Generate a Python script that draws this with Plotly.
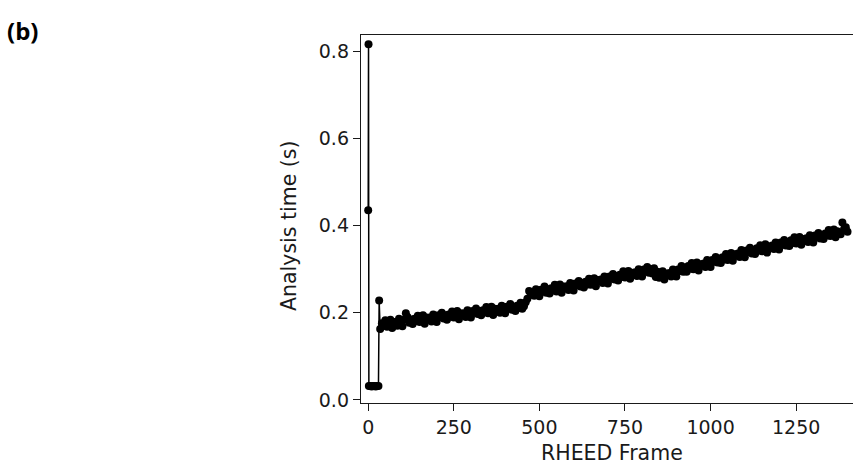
import plotly.graph_objects as go

# ---- data ----
early_frames = [0, 1, 2, 6, 10, 14, 18, 22, 26, 30, 32]
early_times = [0.435, 0.816, 0.032, 0.032, 0.031, 0.032, 0.032, 0.031, 0.032, 0.032, 0.228]

main_frames = list(range(35, 1401, 5))
main_times = [
    0.163, 0.176, 0.170, 0.183, 0.168, 0.175, 0.184, 0.165, 0.179,
    0.179, 0.170, 0.186, 0.177, 0.169, 0.184, 0.199, 0.190, 0.177, 0.184,
    0.174, 0.186, 0.181, 0.193, 0.179, 0.185, 0.194, 0.175, 0.189, 0.185,
    0.189, 0.180, 0.196, 0.187, 0.179, 0.194, 0.190, 0.200, 0.187, 0.194,
    0.184, 0.196, 0.191, 0.203, 0.189, 0.195, 0.204, 0.185, 0.199, 0.195,
    0.199, 0.190, 0.206, 0.197, 0.189, 0.204, 0.200, 0.210, 0.197, 0.204,
    0.194, 0.206, 0.201, 0.213, 0.199, 0.205, 0.214, 0.195, 0.209, 0.205,
    0.209, 0.200, 0.216, 0.207, 0.199, 0.214, 0.210, 0.220, 0.207, 0.214,
    0.204, 0.216, 0.211, 0.223, 0.209, 0.215, 0.224, 0.232, 0.250, 0.241,
    0.247, 0.239, 0.254, 0.246, 0.238, 0.253, 0.249, 0.260, 0.246, 0.254,
    0.244, 0.256, 0.251, 0.264, 0.249, 0.256, 0.265, 0.246, 0.260, 0.257,
    0.261, 0.252, 0.268, 0.260, 0.251, 0.267, 0.263, 0.273, 0.260, 0.268,
    0.258, 0.271, 0.265, 0.278, 0.264, 0.271, 0.279, 0.261, 0.275, 0.272,
    0.276, 0.268, 0.283, 0.275, 0.267, 0.283, 0.278, 0.289, 0.276, 0.284,
    0.274, 0.287, 0.282, 0.295, 0.281, 0.288, 0.296, 0.278, 0.292, 0.289,
    0.293, 0.284, 0.300, 0.292, 0.283, 0.299, 0.295, 0.305, 0.292, 0.300,
    0.290, 0.302, 0.282, 0.294, 0.280, 0.286, 0.295, 0.276, 0.290, 0.287,
    0.291, 0.283, 0.299, 0.291, 0.283, 0.299, 0.296, 0.307, 0.294, 0.303,
    0.294, 0.307, 0.301, 0.314, 0.300, 0.307, 0.315, 0.297, 0.311, 0.308,
    0.313, 0.305, 0.321, 0.313, 0.305, 0.321, 0.317, 0.328, 0.315, 0.324,
    0.314, 0.327, 0.322, 0.335, 0.321, 0.328, 0.337, 0.319, 0.334, 0.331,
    0.336, 0.328, 0.344, 0.335, 0.327, 0.343, 0.339, 0.349, 0.336, 0.344,
    0.335, 0.348, 0.343, 0.355, 0.341, 0.348, 0.357, 0.338, 0.352, 0.349,
    0.354, 0.346, 0.361, 0.353, 0.345, 0.361, 0.356, 0.367, 0.354, 0.362,
    0.353, 0.366, 0.360, 0.373, 0.359, 0.365, 0.374, 0.356, 0.369, 0.366,
    0.371, 0.362, 0.378, 0.370, 0.361, 0.377, 0.373, 0.383, 0.370, 0.378,
    0.369, 0.382, 0.377, 0.390, 0.376, 0.383, 0.391, 0.373, 0.387, 0.384,
    0.380, 0.407, 0.392, 0.396, 0.386,
]

x_ticks = [0, 250, 500, 750, 1000, 1250]
y_ticks = [0.0, 0.2, 0.4, 0.6, 0.8]

frames = early_frames + main_frames
times = early_times + main_times

W, H = 853, 468
ML, MR, MT, MB = 361, 0, 35, 65
font_fam = "DejaVu Sans"
ink = "#1a1a1a"

fig = go.Figure()
fig.add_trace(go.Scatter(
    x=frames, y=times, mode="lines+markers",
    line=dict(color="black", width=1.5),
    marker=dict(color="black", size=8),
    showlegend=False, hoverinfo="skip",
))

fig.update_layout(
    width=W, height=H,
    margin=dict(l=ML, r=MR, t=MT, b=MB),
    paper_bgcolor="white", plot_bgcolor="white",
    font=dict(family=font_fam, size=19, color=ink),
    xaxis=dict(
        range=[-21, 1416], tickvals=x_ticks, ticktext=[str(v) for v in x_ticks],
        showline=True, linecolor=ink, linewidth=1.4, mirror=True,
        ticks="outside", ticklen=7, tickwidth=1.4, tickcolor=ink,
        showgrid=False, zeroline=False,
        tickfont=dict(family=font_fam, size=19, color=ink),
    ),
    yaxis=dict(
        range=[-0.007, 0.837], tickvals=y_ticks, ticktext=["%.1f" % v for v in y_ticks],
        showline=True, linecolor=ink, linewidth=1.4, mirror=False,
        ticks="outside", ticklen=7, tickwidth=1.4, tickcolor=ink,
        showgrid=False, zeroline=False,
        tickfont=dict(family=font_fam, size=19, color=ink),
    ),
    annotations=[
        dict(text="RHEED Frame", xref="paper", yref="paper",
             x=0.51, y=0, yshift=-50, xanchor="center", yanchor="middle",
             showarrow=False, font=dict(family=font_fam, size=20.5, color=ink)),
        dict(text="Analysis time (s)", xref="paper", yref="paper",
             x=0, xshift=-72, y=0.481, xanchor="center", yanchor="middle",
             textangle=-90, showarrow=False,
             font=dict(family=font_fam, size=20.5, color=ink)),
        dict(text="<b>(b)</b>", xref="paper", yref="paper",
             x=(5 - ML) / (W - ML - MR), y=(H - MB - 12) / (H - MT - MB),
             xanchor="left", yanchor="top", showarrow=False,
             font=dict(family="Open Sans", size=24, color="black")),
    ],
)

fig.write_html("out.html", config={"displayModeBar": False},
               post_script="document.body.style.margin='0px';document.body.style.overflow='hidden';")
